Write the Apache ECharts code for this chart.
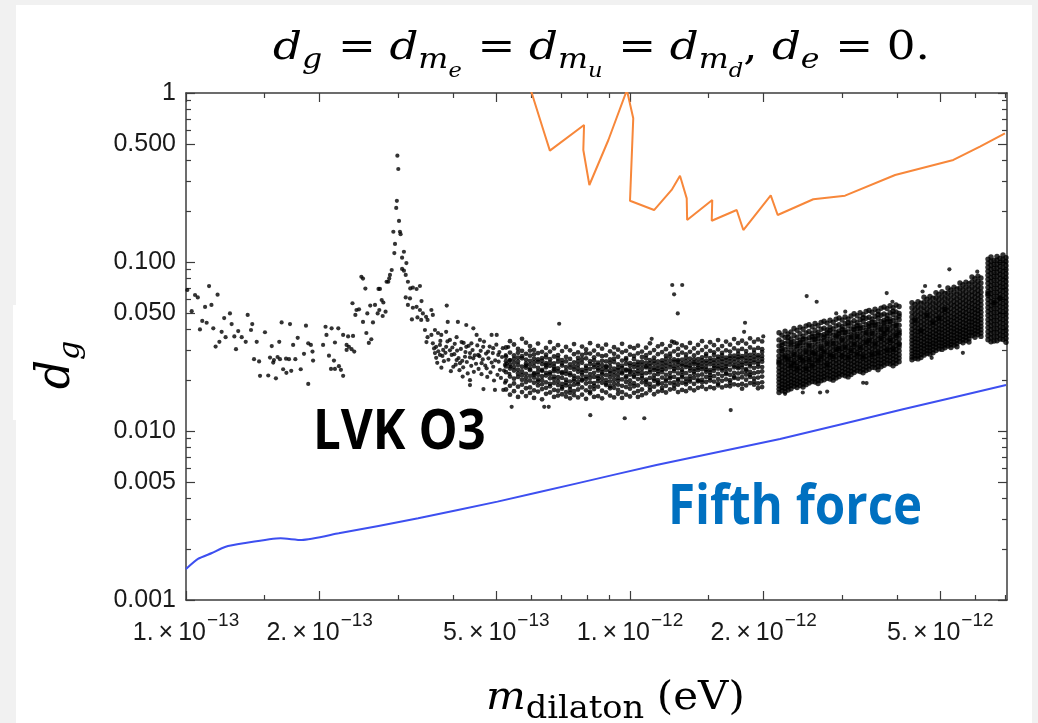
<!DOCTYPE html>
<html><head><meta charset="utf-8">
<script src="https://cdn.jsdelivr.net/npm/echarts@6/dist/echarts.min.js"></script>
<style>html,body{margin:0;padding:0;background:#fff}#c{width:1038px;height:723px}</style>
</head><body><div id="c"></div>
<script>
// Units: masses are in units of 1e-13 eV, scatter d_g values in units of 1e-3
const MASS_UNIT = 1e-13;
const DG_UNIT = 1e-3;

// Axis ticks
const xTickMajor = [1, 2, 5, 10, 20, 50];
const xTickMinor = [1.5, 3, 4, 6, 7, 8, 9, 15, 30, 40, 60, 70];
const xLabelMant = ['1.', '2.', '5.', '1.', '2.', '5.'];
const xLabelExp = ['\u221213', '\u221213', '\u221213', '\u221212', '\u221212', '\u221212'];
const yTickMajor = [0.001, 0.005, 0.01, 0.05, 0.1, 0.5, 1];
const yTickLabels = ['0.001', '0.005', '0.010', '0.050', '0.100', '0.500', '1'];
const yTickMinor = [0.002, 0.003, 0.004, 0.006, 0.007, 0.008, 0.009, 0.02, 0.03, 0.04, 0.06, 0.07, 0.08, 0.09, 0.2, 0.3, 0.4, 0.6, 0.7, 0.8, 0.9];
const xRange = [1, 70.65];
const yRange = [0.001, 1];

// Orange curve (mass, d_g)
const orangeMass = [5.92, 6.38, 6.60, 7.88, 7.85, 8.10, 8.94, 9.84, 10.17, 10.0, 11.33, 12.41, 12.96, 13.42, 13.45, 15.32, 15.28, 17.39, 18.0, 20.75, 21.51, 25.87, 30.5, 39.55, 53.5, 61.4, 69.9];
const orangeDg = [1.13, 0.604, 0.456, 0.647, 0.460, 0.2855, 0.527, 1.04, 0.708, 0.2305, 0.203, 0.267, 0.324, 0.238, 0.177, 0.233, 0.1755, 0.203, 0.1546, 0.248, 0.1897, 0.235, 0.247, 0.327, 0.4015, 0.481, 0.577];

// Fifth force curve (mass, d_g)
const blueMass = [1.0, 1.064, 1.144, 1.224, 1.347, 1.633, 1.823, 2.208, 3.334, 5.03, 7.60, 11.47, 21.77, 41.2, 70.3];
const blueDg = [0.001526, 0.00175, 0.001897, 0.00206, 0.002165, 0.002318, 0.002265, 0.00248, 0.003044, 0.00382, 0.0049, 0.00629, 0.00897, 0.01344, 0.01872];

// LVK O3 scatter, isolated points [mass, d_g]
const sparsePoints = [[1.007,68.3],[1.048,63.8],[1.063,61.7],[1.127,72.0],[1.178,64.1],[1.104,54.2],[1.141,55.7],[1.030,51.2],[1.219,46.6],[1.256,49.6],[1.088,44.8],[1.113,43.7],[1.075,39.9],[1.152,40.5],[1.377,48.6],[1.410,42.9],[1.267,42.9],[1.401,39.6],[1.203,38.6],[1.311,39.0],[1.228,35.9],[1.285,36.3],[1.335,35.9],[1.363,33.7],[1.166,31.6],[1.189,33.7],[1.296,30.5],[1.443,33.7],[1.506,38.4],[1.423,26.6],[1.461,25.8],[1.468,21.2],[1.532,21.3],[1.594,20.5],[1.560,31.8],[1.622,33.7],[1.546,27.2],[1.578,26.3],[1.608,27.4],[1.628,26.6],[1.572,25.4],[1.642,43.9],[1.715,42.9],[1.680,26.8],[1.706,26.6],[1.743,32.3],[1.785,35.6],[1.763,26.6],[1.655,23.2],[1.683,22.1],[1.726,22.7],[1.813,23.2],[1.863,42.0],[1.885,33.0],[1.911,32.3],[1.844,28.6],[1.927,29.5],[1.933,26.1],[1.885,19.0],[2.062,41.4],[2.128,40.5],[2.203,40.5],[2.036,32.3],[2.072,37.0],[2.165,33.4],[2.099,27.9],[2.154,26.1],[2.121,23.3],[2.165,23.3],[2.210,24.2],[2.233,23.0],[2.259,21.2],[2.259,37.0],[2.318,36.3],[2.378,36.5],[2.300,32.3],[2.328,31.5],[2.360,30.5],[2.393,29.5],[2.300,30.2],[2.371,57.0],[2.421,52.0],[2.453,52.5],[2.407,48.6],[2.483,81.8],[2.504,79.8],[2.535,69.6],[2.714,69.3],[2.734,69.3],[2.561,49.6],[2.702,49.6],[2.815,50.8],[2.600,55.2],[2.665,55.7],[2.725,52.0],[2.759,59.6],[2.783,57.6],[2.504,44.2],[2.637,43.9],[2.773,47.9],[2.548,38.0],[2.614,34.9],[2.581,33.2],
[2.993,426],[3.007,355],[2.985,230],[2.975,209],[3.018,175],[2.931,151],[3.033,151],[3.043,146],[2.956,128],[2.946,113],[3.096,115],[3.067,106],[3.136,98.5],[3.067,91.0],[3.096,88.9],[3.125,83.8],[2.906,89.7],[2.880,83.8],[2.869,80.0],[2.855,76.4],[2.830,76.4],[3.161,76.4],[3.200,69.8],[3.243,70.6],[3.306,69.2],[3.364,72.1],[3.125,61.7],[3.195,60.9],[3.161,55.7],[3.243,53.6],[3.306,54.3],[3.392,58.7],[3.364,52.0],[3.416,49.6],[3.473,47.4],[3.500,45.4],[3.321,47.0],[3.386,45.4],[3.227,45.7],[3.570,52.0],[3.597,48.6],[3.453,39.6],[3.500,35.9],[3.480,33.6],[3.570,37.0],[3.637,39.6],[3.695,38.0],[3.758,37.0],[3.854,38.6],[3.597,33.0],[3.659,31.5],[3.732,32.3],[3.795,30.2],[3.854,31.5],[3.637,28.9],[3.732,28.2],[3.866,55.2],[3.886,44.2],[4.096,44.2],[4.278,42.4],[4.438,40.5],[3.931,34.6],[4.069,35.9],[4.175,33.6],[4.278,31.5],[4.394,33.0],[4.514,37.0],[4.592,34.6],[3.966,28.2],[4.069,26.3],[4.000,24.0],[4.140,25.2],[4.249,27.5],[4.361,28.9],[4.436,26.9],[4.551,28.2],[4.199,21.0],[4.361,20.0],[4.361,18.7],[4.670,31.5],[4.791,29.5],[4.920,30.9],[5.050,28.2],[4.878,37.0],[5.010,37.0],[4.632,25.2],[4.755,23.5],[4.920,24.0],[5.094,23.0],[5.228,24.6],[5.366,26.3],[4.677,17.7],[4.964,17.5],[5.183,17.5],[5.413,13.9],[6.926,43.1],
[3.62,30.8],[3.66,27.1],[3.70,29.6],[3.68,25.3],[3.74,34.1],[3.78,27.8],[3.81,25.9],[3.76,23.7],[3.84,29.0],[3.88,33.9],[3.90,26.4],[3.93,30.0],[3.95,22.6],[3.98,31.2],[4.02,28.5],[4.05,24.7],[4.03,32.8],[4.08,29.9],[4.11,27.0],[4.13,22.9],[4.16,30.6],[4.19,26.0],[4.22,33.2],[4.21,23.8],[4.26,29.3],[4.29,25.6],[4.31,21.9],[4.33,31.9],[4.36,27.3],[4.39,24.3],[4.42,30.1],[4.45,22.4],[4.47,28.0],[4.50,25.0],[4.53,32.1],[4.56,23.3],[4.58,27.7],[4.61,29.8],[4.63,21.7],[4.66,26.5],[4.69,33.8],[4.72,24.4],[4.74,28.7],[4.77,20.9],[4.80,26.9],[4.83,31.6],[4.85,22.2],[4.88,25.4],[4.91,28.9],[4.94,19.9],[4.97,26.2],[5.00,32.4],[5.03,21.5],[5.06,25.7],[5.08,29.3],[5.12,20.6],[5.15,27.4],[5.17,30.9],[5.20,22.8],[5.23,19.3],[5.25,28.1],[5.28,25.1],[5.32,31.4],[5.35,21.8],[5.38,24.0],
[12.45,73.1],[13.11,73.1],[12.57,64.4],[12.81,49.6],[18.16,43.7],[18.07,38.6],[19.96,36.3],[11.19,35.1],[12.42,33.9],[12.75,33.0],[8.14,12.4],[9.73,11.9],[10.77,11.9],[6.41,13.9],[6.56,13.9],[16.86,13.3],
[25.0,62.9],[26.33,58.2],[37.86,65.5],[39.0,58.2],[29.14,49.6],[30.54,50.8],[22.35,16.6],[24.5,16.9],[26.8,16.9],[27.8,17.1],[33.5,19.3],[34.1,19.2],
[52.4,90.5],[60.55,87.7],[56.2,29.0],[47.8,27.1],[46.2,72.1],[49.8,72.1],[45.6,66.9]];

// Dense band 5e-13 .. 2e-12 : [mass, [d_g values]]
const band0Cols = [[5.257,[31.2,27.5,24.1,22.3,19.8,17.6,25.9]],[5.367,[34.0,29.1,26.2,23.4,21.0,18.5,16.4,24.8]],[5.480,[32.5,28.0,25.3,22.8,20.4,19.1,17.2,26.7,23.9]],[5.595,[30.6,27.2,24.6,21.9,20.9,18.3,15.9,29.0,23.1,25.8]],[5.712,[35.1,29.8,26.9,24.0,22.5,20.1,18.8,17.0,27.7,21.4]],[5.832,[33.3,28.6,25.0,23.7,21.8,19.5,17.9,16.1,26.4,24.4,20.6]],[5.954,[31.8,27.9,26.0,22.9,21.2,19.9,18.1,16.8,24.7,23.3,29.9]],[6.079,[30.2,26.8,24.2,22.0,20.7,19.3,17.4,15.7,25.5,21.6,28.4]],[6.206,[32.9,28.9,25.6,23.6,21.5,20.2,18.6,17.1,26.5,22.4,19.6]],[6.337,[29.4,27.0,24.9,22.7,20.0,18.9,17.7,15.4,26.1,23.0,21.1]],[6.470,[31.0,28.3,25.2,23.8,21.3,19.4,18.0,16.6,27.3,22.1,24.5]],[6.605,[33.6,29.5,26.6,24.3,22.2,20.5,18.4,16.9,25.4,21.7,19.0]],[6.744,[30.8,27.6,25.1,23.2,21.0,19.2,17.5,15.9,24.0,22.6,20.3]],[6.885,[32.2,28.1,25.7,22.5,20.8,18.7,17.3,16.2,23.5,26.9,19.7]],[7.030,[29.7,26.3,24.4,22.3,20.6,19.0,17.8,16.5,21.9,25.1,18.2]],[7.177,[31.4,27.4,23.9,21.8,20.1,18.6,17.0,16.0,22.7,25.8,19.3]],[7.328,[30.0,26.7,24.8,22.0,19.6,18.4,16.8,15.6,21.4,23.7,17.6]],[7.481,[32.7,28.5,25.5,23.1,21.2,19.8,17.2,16.3,24.1,20.4,18.8]],[7.638,[29.2,27.1,24.6,22.4,20.7,18.9,17.6,15.8,23.4,25.9,19.5]],[7.798,[31.6,28.2,25.3,23.0,21.5,19.9,18.1,16.4,22.2,26.6,20.2]],[7.962,[30.4,26.9,24.3,22.6,20.3,19.1,17.4,15.5,23.6,21.0,28.8]],[8.129,[33.1,28.7,25.9,23.3,21.7,19.4,18.2,16.7,24.9,20.6,17.1]],[8.299,[29.9,27.3,24.7,22.1,20.9,18.5,17.7,15.9,23.8,26.2,19.2]],[8.473,[31.9,28.4,25.4,23.5,21.1,19.7,18.3,16.1,22.8,24.6,20.5]],[8.651,[30.7,27.7,24.5,22.2,20.4,19.3,17.3,15.6,23.2,26.0,21.6]],[8.832,[32.4,28.0,25.8,23.9,21.4,20.0,18.7,16.9,22.9,24.2,19.1]],[9.018,[29.6,26.5,24.0,22.7,20.8,19.6,17.9,16.2,21.9,25.3,18.4]],[9.207,[31.3,28.6,25.6,23.4,21.3,19.0,18.0,15.8,22.4,26.8,20.1]],[9.400,[30.3,27.5,24.8,22.9,20.6,18.8,17.5,16.6,23.7,21.7,19.8]],[9.597,[32.8,29.2,26.1,23.6,21.9,20.2,18.5,17.0,24.4,22.3,15.7]],[9.799,[29.8,27.0,25.0,22.8,21.1,19.5,18.2,16.4,23.1,26.4,20.7]],[10.00,[31.5,28.3,25.2,23.0,21.6,19.9,17.8,16.0,24.3,22.5,18.9]],[10.21,[30.9,27.8,24.9,22.4,20.9,19.2,18.4,16.8,23.9,26.6,21.3]],[10.42,[32.0,28.8,25.6,23.7,21.8,20.3,18.6,17.2,22.6,24.7,15.9]],[10.64,[29.5,27.4,24.6,22.1,20.5,19.4,17.6,16.3,23.3,25.7,21.2]],[10.87,[31.1,28.1,25.3,23.8,22.0,20.1,18.8,16.7,24.2,26.9,19.6]],[11.09,[33.0,29.0,26.3,24.1,22.2,20.6,19.0,17.4,23.0,25.1,18.1]],[11.33,[30.1,27.2,25.0,22.9,21.4,19.8,18.3,16.5,23.6,26.0,20.4]],[11.56,[31.7,28.5,25.8,23.4,21.7,20.0,18.9,17.1,24.5,22.6,19.3]],[11.81,[32.6,29.3,26.2,24.0,22.3,20.7,19.1,17.3,25.2,23.1,18.0]],[12.05,[30.5,27.9,25.4,23.2,21.5,20.2,18.5,16.9,24.4,26.7,19.7]],[12.31,[31.9,28.7,26.0,23.8,22.1,20.5,19.2,17.6,24.8,21.0,27.5]],[12.57,[33.4,29.6,26.5,24.2,22.6,20.9,19.4,17.8,25.6,23.3,18.6]],[12.83,[30.6,28.2,25.7,23.5,21.9,20.3,18.8,17.0,24.7,26.3,19.9]],[13.10,[32.1,29.1,26.4,24.3,22.4,20.8,19.3,17.5,25.0,23.0,21.3]],[13.37,[31.2,28.4,25.9,23.9,22.0,20.4,18.9,17.2,24.6,27.2,19.5]],[13.65,[33.2,29.4,26.8,24.4,22.7,21.1,19.6,17.9,25.5,23.6,20.2]],[13.94,[30.8,28.0,25.5,23.4,21.8,20.6,19.0,17.4,24.9,26.5,22.5]],[14.23,[32.3,29.0,26.6,24.5,22.9,21.3,19.7,18.0,25.3,23.7,20.0]],[14.53,[34.0,30.1,27.3,25.1,23.2,21.6,20.1,18.3,26.2,24.0,19.4]],[14.84,[31.5,28.6,26.1,24.0,22.4,20.9,19.5,17.7,25.2,23.1,27.8]],[15.15,[33.5,29.8,27.0,24.8,23.0,21.4,19.9,18.2,25.9,22.2,20.6]],[15.46,[32.2,29.2,26.4,24.3,22.7,21.1,19.6,17.9,25.4,23.6,28.2]],[15.79,[34.5,30.4,27.5,25.3,23.4,21.8,20.3,18.6,26.6,24.2,19.1]],[16.12,[31.8,29.0,26.7,24.6,22.8,21.2,19.8,18.1,25.7,23.5,28.0]],[16.46,[33.8,30.0,27.2,25.0,23.3,21.7,20.2,18.5,26.3,24.1,22.1]],[16.80,[32.4,29.5,26.9,24.7,23.0,21.5,20.0,18.4,25.8,27.8,19.3]],[17.16,[35.0,30.8,27.9,25.6,23.8,22.1,20.6,18.9,26.8,24.4,21.0]],[17.52,[33.1,29.9,27.4,25.2,23.5,21.9,20.4,18.7,26.5,24.0,28.6]],[17.88,[34.2,30.6,27.7,25.5,23.7,22.2,20.8,19.0,26.9,24.6,17.8]],[18.26,[32.9,29.7,27.1,25.0,23.2,21.6,20.1,18.6,26.0,28.4,22.8]],[18.64,[35.3,31.2,28.2,25.9,24.1,22.4,20.9,19.2,27.0,24.8,21.5]],[19.03,[33.7,30.3,27.6,25.4,23.6,22.0,20.5,18.8,26.4,29.0,19.6]],[19.43,[34.8,31.0,28.1,25.8,24.0,22.3,20.7,19.1,27.2,24.9,17.9]],[19.84,[33.9,30.5,27.8,25.7,23.9,22.5,21.0,19.4,26.7,29.3,18.2]]];

// Cluster 2e-12 .. 4e-12
const cluster1Cols = [[21.66,[38.1,34.6,31.9,29.7,27.8,26.3,24.9,23.6,22.4,21.3,20.3,19.4,18.5,17.7,16.9,25.5]],[22.00,[36.9,33.5,30.8,28.6,27.1,25.6,24.2,23.0,21.9,20.8,19.8,18.9,18.1,17.3,29.9,32.2]],[22.35,[39.0,35.8,32.9,30.3,28.2,26.7,25.2,23.9,22.7,21.6,20.6,19.6,18.7,17.9,17.1,27.4]],[22.70,[37.5,34.0,31.4,29.2,27.5,25.9,24.5,23.3,22.1,21.1,20.0,19.1,18.3,17.5,26.6,35.9]],[23.05,[38.6,35.1,32.3,30.0,28.0,26.4,25.0,23.7,22.5,21.4,20.4,19.5,18.6,17.8,24.3,33.2]],[23.41,[40.5,36.8,33.8,31.3,29.2,27.5,26.0,24.6,23.3,22.2,21.1,20.1,19.2,18.4,28.4,25.3]],[23.78,[39.4,35.7,32.8,30.5,28.6,26.9,25.4,24.1,22.9,21.8,20.7,19.8,18.9,18.1,31.9,23.5]],[24.15,[41.2,37.6,34.5,31.9,29.8,28.0,26.4,25.0,23.7,22.5,21.4,20.4,19.5,18.6,27.2,33.3]],[24.53,[40.0,36.3,33.3,30.9,28.9,27.2,25.7,24.3,23.1,22.0,20.9,19.9,19.0,18.2,35.0,26.2]],[24.92,[41.8,38.0,34.9,32.4,30.2,28.4,26.8,25.3,24.0,22.8,21.7,20.6,19.7,18.8,29.4,23.4]],[25.31,[42.6,38.8,35.6,33.0,30.8,28.9,27.3,25.8,24.5,23.2,22.1,21.0,20.1,19.2,31.9,26.5]],[25.71,[41.4,37.7,34.7,32.1,30.0,28.2,26.6,25.2,23.9,22.7,21.6,20.6,19.6,36.1,29.1,24.4]],[26.11,[43.3,39.5,36.3,33.6,31.4,29.5,27.8,26.3,25.0,23.7,22.5,21.4,20.4,19.5,34.9,28.6]],[26.52,[42.0,38.2,35.1,32.6,30.4,28.6,27.0,25.5,24.2,23.0,21.9,20.9,19.9,19.1,37.0,26.2]],[26.94,[43.9,40.0,36.8,34.1,31.8,29.9,28.2,26.7,25.3,24.0,22.8,21.7,20.7,19.8,30.9,27.5]],[27.36,[44.6,40.6,37.3,34.6,32.3,30.3,28.6,27.0,25.6,24.3,23.1,22.0,21.0,20.1,35.9,29.4]],[27.79,[43.5,39.6,36.4,33.8,31.5,29.6,27.9,26.4,25.1,23.8,22.6,21.5,20.5,38.0,32.9,24.6]],[28.22,[45.2,41.2,37.9,35.1,32.8,30.8,29.0,27.4,26.0,24.7,23.5,22.4,21.3,20.3,39.4,28.2]],[28.67,[44.0,40.1,36.9,34.2,31.9,30.0,28.3,26.8,25.4,24.1,22.9,21.8,20.8,20.0,33.0,27.6]],[29.12,[45.8,41.8,38.4,35.6,33.2,31.2,29.4,27.8,26.3,25.0,23.8,22.6,21.6,20.6,36.5,30.3]],[29.57,[46.7,42.5,39.1,36.2,33.8,31.7,29.9,28.3,26.8,25.4,24.2,23.0,21.9,21.0,37.6,30.8]],[30.04,[45.4,41.4,38.1,35.3,32.9,30.9,29.2,27.6,26.2,24.9,23.7,22.5,21.5,40.0,34.5,28.0]],[30.51,[47.3,43.1,39.6,36.7,34.3,32.2,30.4,28.7,27.2,25.8,24.5,23.3,22.2,21.2,38.3,31.3]],[30.99,[46.0,41.9,38.6,35.8,33.4,31.4,29.6,28.0,26.6,25.2,24.0,22.9,21.8,20.9,43.7,27.3]],[31.47,[47.9,43.6,40.1,37.2,34.7,32.6,30.8,29.1,27.6,26.2,24.9,23.7,22.6,21.6,36.0,29.9]],[31.97,[49.4,45.0,41.3,38.3,35.7,33.5,31.6,29.9,28.3,26.9,25.6,24.4,23.2,22.2,39.8,32.6]],[32.47,[48.1,43.8,40.3,37.4,34.9,32.8,30.9,29.2,27.7,26.3,25.0,23.8,22.7,42.0,36.3,28.5]],[32.98,[50.2,45.7,42.0,38.9,36.3,34.1,32.1,30.4,28.8,27.4,26.0,24.8,23.6,22.5,40.6,31.2]],[33.49,[48.8,44.5,40.9,37.9,35.4,33.3,31.4,29.7,28.2,26.8,25.5,24.2,23.1,22.1,46.8,27.5]],[34.02,[50.9,46.4,42.6,39.5,36.9,34.6,32.6,30.8,29.2,27.7,26.4,25.1,23.9,22.8,38.1,33.5]],[34.55,[51.7,47.1,43.3,40.1,37.4,35.1,33.1,31.3,29.7,28.2,26.8,25.5,24.3,23.2,41.6,34.3]],[35.09,[50.4,45.9,42.2,39.1,36.5,34.3,32.3,30.6,29.0,27.6,26.2,25.0,23.8,44.0,37.9,28.4]],[35.64,[52.5,47.8,43.9,40.7,38.0,35.7,33.6,31.8,30.2,28.7,27.3,26.0,24.8,23.7,42.3,32.7]],[36.20,[51.1,46.5,42.8,39.7,37.0,34.8,32.8,31.0,29.4,27.9,26.5,25.3,24.1,23.0,48.9,28.9]],[36.77,[53.2,48.4,44.5,41.3,38.5,36.2,34.1,32.2,30.6,29.1,27.7,26.3,25.1,24.0,40.0,35.3]],[37.35,[54.2,49.3,45.3,42.0,39.2,36.8,34.7,32.8,31.1,29.6,28.1,26.8,25.6,24.5,43.6,37.8]],[37.93,[53.0,48.2,44.3,41.1,38.4,36.0,34.0,32.2,30.5,29.0,27.6,26.3,25.1,46.2,39.9,30.0]],[38.53,[55.1,50.1,46.1,42.7,39.9,37.4,35.3,33.4,31.6,30.1,28.6,27.3,26.0,24.9,44.4,34.4]],[39.13,[53.7,48.9,45.0,41.7,38.9,36.5,34.4,32.6,30.9,29.4,28.0,26.7,25.4,24.3,51.1,30.4]],[39.74,[55.7,50.7,46.6,43.2,40.3,37.8,35.7,33.8,32.0,30.4,28.9,27.5,26.2,25.1,42.1,36.8]],[40.37,[54.5,49.6,45.6,42.3,39.5,37.1,35.0,33.1,31.4,29.8,28.3,27.0,25.7,47.9,38.2,32.5]]];

// Cluster 4e-12 .. 6e-12
const cluster2Cols = [[43.16,[57.5,53.6,50.2,47.3,44.6,42.2,40.0,38.0,36.1,34.4,32.8,31.3,29.9,28.6,27.4,26.4]],[43.84,[56.0,52.3,49.0,46.1,43.5,41.1,39.0,37.0,35.2,33.6,32.0,30.6,29.3,28.0,26.9,45.2]],[44.52,[58.2,54.4,51.0,48.0,45.3,42.8,40.6,38.6,36.7,34.9,33.3,31.8,30.4,29.1,27.8,26.7]],[45.22,[57.0,53.2,49.8,46.9,44.2,41.8,39.6,37.6,35.8,34.1,32.5,31.1,29.7,28.4,27.2,39.1]],[45.93,[61.8,57.7,54.0,50.8,47.9,45.3,42.9,40.7,38.7,36.8,35.1,33.5,32.0,30.6,29.3,28.1]],[46.65,[60.3,56.3,52.7,49.6,46.8,44.2,41.9,39.8,37.8,36.0,34.3,32.7,31.3,29.9,28.7,48.4]],[47.38,[62.5,58.4,54.7,51.5,48.5,45.9,43.5,41.3,39.2,37.3,35.6,34.0,32.5,31.1,29.8,28.5]],[48.12,[61.0,57.0,53.4,50.2,47.3,44.7,42.4,40.2,38.2,36.4,34.7,33.1,31.7,30.3,29.0,43.8]],[48.88,[65.9,61.5,57.6,54.2,51.1,48.3,45.8,43.5,41.3,39.3,37.5,35.8,34.2,32.7,31.3,29.9]],[49.64,[64.2,60.0,56.2,52.9,49.9,47.2,44.7,42.4,40.3,38.4,36.6,34.9,33.4,31.9,30.6,46.3]],[50.42,[66.8,62.4,58.5,55.0,51.9,49.1,46.5,44.1,41.9,39.9,38.0,36.3,34.7,33.2,31.8,30.4]],[51.21,[65.2,60.9,57.1,53.7,50.7,47.9,45.4,43.1,41.0,39.0,37.2,35.5,33.9,32.4,31.1,52.3]],[52.01,[70.1,65.5,61.4,57.7,54.4,51.4,48.7,46.2,43.9,41.8,39.8,38.0,36.3,34.7,33.2,31.8]],[52.83,[68.4,63.9,59.9,56.3,53.1,50.2,47.5,45.1,42.8,40.8,38.9,37.1,35.4,33.9,32.5,31.2]],[53.66,[71.0,66.3,62.1,58.4,55.1,52.1,49.3,46.8,44.5,42.3,40.3,38.5,36.8,35.2,33.6,32.2]],[54.50,[69.3,64.7,60.6,57.0,53.8,50.8,48.1,45.7,43.4,41.3,39.4,37.6,35.9,34.3,32.9,31.5]],[55.35,[75.2,70.2,65.8,61.9,58.3,55.1,52.2,49.5,47.0,44.7,42.6,40.6,38.8,37.1,35.5,33.9]],[56.22,[73.4,68.6,64.3,60.4,57.0,53.8,51.0,48.4,46.0,43.8,41.7,39.8,38.0,36.3,34.7,33.3]],[57.10,[76.0,71.0,66.5,62.5,58.9,55.7,52.8,50.1,47.6,45.3,43.1,41.1,39.3,37.5,35.9,34.3]],[58.00,[74.3,69.4,65.0,61.1,57.6,54.5,51.6,49.0,46.5,44.3,42.2,40.2,38.4,36.7,35.1,33.6]],[58.91,[81.5,76.1,71.3,67.0,63.2,59.7,56.6,53.7,51.0,48.5,46.2,44.1,42.1,40.2,38.4,36.7]],[59.83,[79.6,74.4,69.7,65.5,61.8,58.4,55.3,52.5,49.9,47.5,45.2,43.1,41.2,39.3,37.6,35.9]],[60.77,[82.5,77.0,72.2,67.8,64.0,60.5,57.3,54.4,51.7,49.2,46.8,44.7,42.6,40.7,38.9,37.2]],[61.72,[80.5,75.2,70.5,66.2,62.5,59.0,55.9,53.0,50.4,48.0,45.7,43.6,41.6,39.7,38.0,36.3]]];

// Cluster above 6e-12
const cluster3Cols = [[64.02,[104,98.5,93.2,88.2,83.5,79.0,74.8,70.8,67.0,63.4,60.0,56.8,53.8,50.9,48.2,45.6,43.2,40.9,38.7,36.6,34.7,64.9]],[65.02,[107,101,95.7,90.6,85.7,81.1,76.8,72.7,68.8,65.1,61.6,58.3,55.2,52.3,49.5,46.8,44.3,41.9,39.7,37.6,35.6,33.7]],[66.04,[102,96.8,91.6,86.7,82.1,77.7,73.5,69.6,65.9,62.4,59.1,55.9,52.9,50.1,47.4,44.9,42.5,40.2,38.1,36.0,34.1,57.4]],[67.08,[108,102.5,97.0,91.8,86.9,82.3,77.9,73.7,69.8,66.1,62.5,59.2,56.0,53.0,50.2,47.5,45.0,42.6,40.3,38.1,36.1,34.2]],[68.13,[105,99.4,94.1,89.1,84.3,79.8,75.5,71.5,67.7,64.1,60.7,57.4,54.4,51.5,48.7,46.1,43.7,41.3,39.1,37.0,35.0,61.2]],[69.20,[110,104,98.6,93.3,88.3,83.6,79.1,74.9,70.9,67.1,63.5,60.1,56.9,53.9,51.0,48.3,45.7,43.3,41.0,38.8,36.7,34.8]],[70.28,[106,100.5,95.1,90.0,85.2,80.7,76.4,72.3,68.4,64.8,61.3,58.0,54.9,52.0,49.2,46.6,44.1,41.7,39.5,37.4,35.4,33.5]]];

// ---------- build ----------
const lx = m => Math.log10(m * MASS_UNIT);
const ly = d => Math.log10(d);
function expandCols(cols) { const out = []; cols.forEach(([m, vals]) => vals.forEach(v => out.push([m, v]))); return out; }
const toXY = ([m, d]) => [lx(m), ly(d * DG_UNIT)];
const sparseData = sparsePoints.map(toXY);
const bandData = expandCols(band0Cols).map(toXY);
const clusterData = expandCols(cluster1Cols).concat(expandCols(cluster2Cols), expandCols(cluster3Cols)).map(toXY);
const orangeData = orangeMass.map((m, i) => [lx(m), ly(orangeDg[i])]);
const blueData = blueMass.map((m, i) => [lx(m), ly(blueDg[i])]);

const X_MIN = lx(xRange[0]), X_MAX = lx(xRange[1]);
const Y_MIN = ly(yRange[0]), Y_MAX = ly(yRange[1]);
const FRAME = '#3c3c3c';
const LABEL = '#1a1a1a';

function nearestIdx(arr, v) { let bi = 0, bd = Infinity; arr.forEach((a, i) => { const d = Math.abs(a - v); if (d < bd) { bd = d; bi = i; } }); return bi; }

function xAxis(pos, ticks, len, line, labels) {
  return {
    type: 'value', position: pos, min: X_MIN, max: X_MAX, gridIndex: 0,
    axisLine: { show: line, onZero: false, lineStyle: { color: FRAME, width: 1.5 } },
    axisTick: { show: true, inside: true, length: len, customValues: ticks.map(lx), lineStyle: { color: FRAME, width: 1.2 } },
    axisLabel: labels ? {
      show: true, margin: 11, customValues: xTickMajor.map(lx), hideOverlap: false,
      formatter: v => { const i = nearestIdx(xTickMajor.map(lx), v); return '{b|' + xLabelMant[i] + '\u2009\u00d7\u200910}{s|' + xLabelExp[i] + '}'; },
      rich: {
        b: { fontFamily: 'Liberation Sans', fontSize: 25, color: LABEL, height: 25, verticalAlign: 'top', padding: [10, 0, 0, 0] },
        s: { fontFamily: 'Liberation Sans', fontSize: 19, color: LABEL, height: 19, verticalAlign: 'top', padding: [0, 0, 0, 1] }
      }
    } : { show: false },
    splitLine: { show: false }
  };
}
function yAxis(pos, ticks, len, line, labels) {
  return {
    type: 'value', position: pos, min: Y_MIN, max: Y_MAX, gridIndex: 0,
    axisLine: { show: line, onZero: false, lineStyle: { color: FRAME, width: 1.5 } },
    axisTick: { show: true, inside: true, length: len, customValues: ticks.map(ly), lineStyle: { color: FRAME, width: 1.2 } },
    axisLabel: labels ? {
      show: true, margin: 10, customValues: yTickMajor.map(ly), hideOverlap: false,
      fontFamily: 'Liberation Sans', fontSize: 25, color: LABEL,
      formatter: v => yTickLabels[nearestIdx(yTickMajor.map(ly), v)]
    } : { show: false },
    splitLine: { show: false }
  };
}

const serif = 'DejaVu Serif';
const titleRich = {
  i: { fontFamily: serif, fontStyle: 'italic', fontSize: 40, height: 40, verticalAlign: 'top', fill: '#000' },
  r: { fontFamily: serif, fontSize: 40, height: 40, verticalAlign: 'top', fill: '#000' },
  eq: { fontFamily: serif, fontSize: 40, height: 40, verticalAlign: 'top', fill: '#000', padding: [0, 12, 0, 14] },
  s1: { fontFamily: serif, fontStyle: 'italic', fontSize: 28, height: 28, verticalAlign: 'top', fill: '#000', padding: [18, 0, 0, 0] },
  s2: { fontFamily: serif, fontStyle: 'italic', fontSize: 20, height: 20, verticalAlign: 'top', fill: '#000', padding: [33, 0, 0, 0] }
};
const titleText = '{i|d}{s1|g}{eq|=}{i|d}{s1|m}{s2|e}{eq|=}{i|d}{s1|m}{s2|u}{eq|=}{i|d}{s1|m}{s2|d}{r|, }{i|d}{s1|e}{eq|=}{r|0.}';

const dotStyle = { color: '#000000' };
const chart = echarts.init(document.getElementById('c'), null, { renderer: 'canvas' });
chart.setOption({
  animation: false,
  backgroundColor: '#ffffff',
  grid: { left: 186, right: 31, top: 93, bottom: 123, containLabel: false, outerBoundsMode: 'none' },
  xAxis: [
    xAxis('bottom', xTickMinor, 5, true, true),
    xAxis('bottom', xTickMajor, 9, false, false),
    xAxis('top', xTickMinor, 5, true, false),
    xAxis('top', xTickMajor, 9, false, false)
  ],
  yAxis: [
    yAxis('left', yTickMinor, 5, true, true),
    yAxis('left', yTickMajor, 9, false, false),
    yAxis('right', yTickMinor, 5, true, false),
    yAxis('right', yTickMajor, 9, false, false)
  ],
  series: [
    { type: 'scatter', xAxisIndex: 0, yAxisIndex: 0, data: sparseData, symbol: 'circle', symbolSize: 4.2, large: false, silent: true, itemStyle: dotStyle, z: 2 },
    { type: 'scatter', xAxisIndex: 0, yAxisIndex: 0, data: bandData, symbol: 'circle', symbolSize: 4.8, large: false, silent: true, itemStyle: dotStyle, z: 2 },
    { type: 'scatter', xAxisIndex: 0, yAxisIndex: 0, data: clusterData, symbol: 'circle', symbolSize: 5.4, large: false, silent: true, itemStyle: dotStyle, z: 2 },
    { type: 'line', xAxisIndex: 0, yAxisIndex: 0, data: orangeData, showSymbol: false, clip: true, silent: true,
      lineStyle: { color: '#f7873a', width: 2 }, z: 3 },
    { type: 'line', xAxisIndex: 0, yAxisIndex: 0, data: blueData, showSymbol: false, clip: true, silent: true, smooth: 0.2,
      lineStyle: { color: '#3d4ff0', width: 2 }, z: 3 }
  ],
  graphic: [
    { type: 'rect', shape: { x: 0, y: 0, width: 16, height: 723 }, style: { fill: '#f1f1f1' }, z: -10, silent: true },
    { type: 'rect', shape: { x: 13, y: 305, width: 3, height: 115 }, style: { fill: '#ffffff' }, z: -9, silent: true },
    { type: 'rect', shape: { x: 1032, y: 0, width: 6, height: 723 }, style: { fill: '#f1f1f1' }, z: -10, silent: true },
    { type: 'rect', shape: { x: 0, y: 0, width: 1038, height: 5 }, style: { fill: '#f1f1f1' }, z: -10, silent: true },
    { type: 'text', x: 273, y: 29, scaleX: 1.13, z: 50, silent: true,
      style: { text: titleText, rich: titleRich, align: 'left', verticalAlign: 'top', fill: '#000' } },
    { type: 'text', x: 60, y: 365, rotation: Math.PI / 2, z: 50, silent: true,
      style: { text: '{d|d}{g|g}', align: 'center', verticalAlign: 'middle', fill: '#000',
        rich: {
          d: { fontFamily: serif, fontStyle: 'italic', fontSize: 46, height: 46, verticalAlign: 'top', fill: '#000' },
          g: { fontFamily: serif, fontStyle: 'italic', fontSize: 30, height: 30, verticalAlign: 'top', fill: '#000', padding: [22, 0, 0, 0] }
        } } },
    { type: 'text', x: 486, y: 679, scaleX: 1.05, z: 50, silent: true,
      style: { text: '{m|m}{s|dilaton}{r|(eV)}', align: 'left', verticalAlign: 'top', fill: '#000',
        rich: {
          m: { fontFamily: serif, fontStyle: 'italic', fontSize: 40, height: 40, verticalAlign: 'top', fill: '#000' },
          s: { fontFamily: serif, fontSize: 32, height: 32, verticalAlign: 'top', fill: '#000', padding: [15, 0, 0, 0] },
          r: { fontFamily: serif, fontSize: 40, height: 40, verticalAlign: 'top', fill: '#000', padding: [0, 0, 0, 12] }
        } } },
    { type: 'text', x: 313, y: 433, scaleX: 0.88, z: 50, silent: true,
      style: { text: 'LVK O3', font: 'bold 56px "Open Sans"', align: 'left', verticalAlign: 'middle', fill: '#000000' } },
    { type: 'text', x: 668, y: 508, scaleX: 0.88, z: 50, silent: true,
      style: { text: 'Fifth force', font: 'bold 56px "Open Sans"', align: 'left', verticalAlign: 'middle', fill: '#0070c0' } }
  ]
});
</script></body></html>
